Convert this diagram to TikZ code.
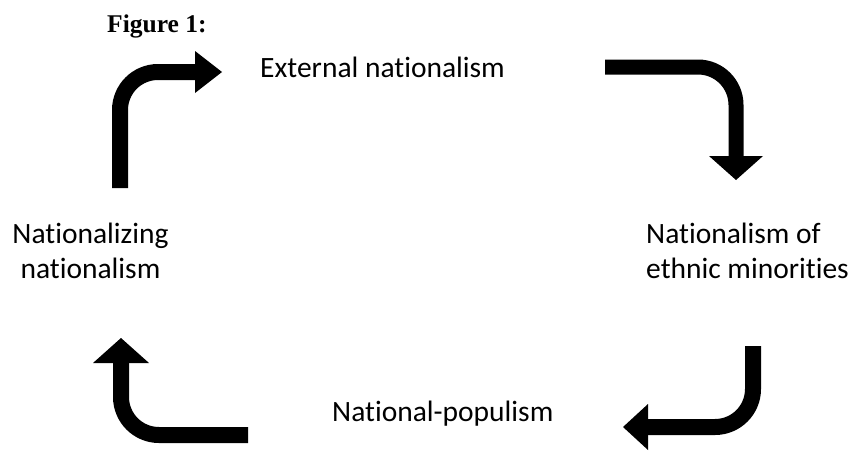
\documentclass[tikz,border=0pt]{standalone}
\usepackage{fontspec}
\setmainfont{Carlito}[Ligatures=NoCommon]
\newfontfamily\figfont{Liberation Serif}
\usetikzlibrary{arrows.meta}

\begin{document}
\begin{tikzpicture}[x=1pt, y=-1pt,
  lbl/.style={inner sep=0pt, font=\fontsize{29.5}{35}\selectfont},
  turn/.style={line width=16pt, rounded corners=38pt, black}
]
  \useasboundingbox (0,0) rectangle (853,450);

  \node[inner sep=0pt, anchor=base west, font=\figfont\bfseries\fontsize{25.5}{30}\selectfont] (fig) at (107,32) {Figure 1:};

  \node[lbl, anchor=base west] (ext) at (260,77) {External nationalism};
  \node[lbl, anchor=north west, align=left] (ethnic) at (646,223) {Nationalism of\\ethnic minorities};
  \node[lbl, anchor=base west] (pop) at (332,421) {National-populism};
  \node[lbl, anchor=north, align=center] (nzing) at (90.5,223) {Nationalizing\\nationalism};

  \coordinate (a1s) at (120,188);
  \coordinate (a1e) at (222,72);
  \coordinate (a2s) at (605,67);
  \coordinate (a2e) at (736,180);
  \coordinate (a3s) at (753,346);
  \coordinate (a3e) at (623,427);
  \coordinate (a4s) at (248,435);
  \coordinate (a4e) at (121,338);

  \draw[turn, -{Triangle[width=42pt, length=27pt, line width=0pt]}] (a1s) |- (a1e);
  \draw[turn, line width=15pt, -{Triangle[width=54pt, length=24pt, line width=0pt]}] (a2s) -| (a2e);
  \draw[turn, -{Triangle[width=46pt, length=25pt, line width=0pt]}] (a3s) |- (a3e);
  \draw[turn, -{Triangle[width=56pt, length=25pt, line width=0pt]}] (a4s) -| (a4e);
\end{tikzpicture}
\end{document}
